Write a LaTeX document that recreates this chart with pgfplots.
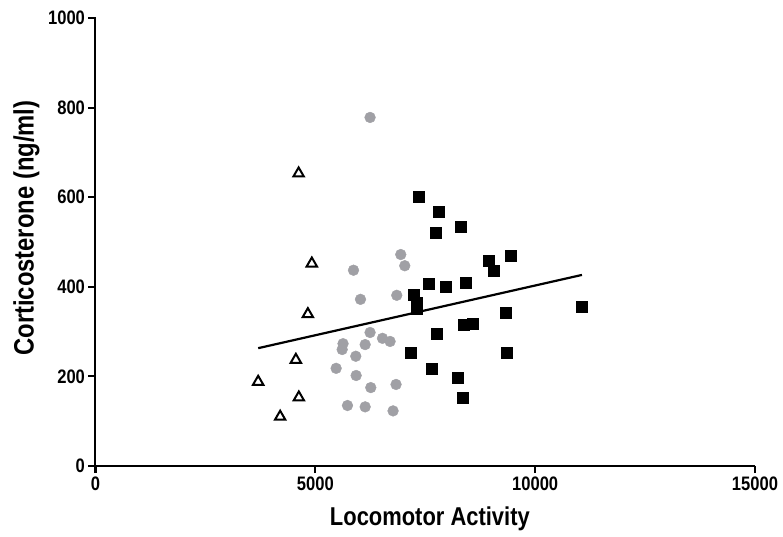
\documentclass[border=0pt]{standalone}
\usepackage{fontspec}
\setmainfont{Liberation Sans}[FakeStretch=0.85]
\usepackage{pgfplots}
\usetikzlibrary{calc}
\pgfplotsset{compat=1.18}
\definecolor{dotgray}{RGB}{160,160,165}
\newcommand{\bigbf}{\fontsize{19.5pt}{22pt}\selectfont\bfseries}
\begin{document}
\begin{tikzpicture}
\begin{axis}[
  name=ax,
  scale only axis,
  width=659.5pt, height=448pt,
  xmin=0, xmax=15000, ymin=0, ymax=1000,
  axis x line=bottom,
  axis y line=left,
  axis line style={-, line width=2pt, black},
  xtick={0,5000,10000,15000},
  ytick={0,200,400,600,800,1000},
  minor tick num=0,
  tick align=outside,
  tickwidth=7pt,
  tick style={line width=2pt, black, solid},
  scaled ticks=false,
  /pgf/number format/assume math mode=true,
  /pgf/number format/set thousands separator={},
  xticklabel style={font=\bigbf},
  yticklabel style={font=\bigbf},
  xlabel={Locomotor Activity},
  ylabel={Corticosterone (ng/ml)},
  xlabel style={font=\fontsize{25.8pt}{28pt}\selectfont\bfseries, at={(axis description cs:0.507,-0.118)}, anchor=center},
  ylabel style={font=\fontsize{28pt}{30pt}\selectfont\bfseries, at={(axis description cs:-0.1046,0.531)}, anchor=center},
  clip=false,
]
% regression line
\addplot[black, line width=2.2pt] coordinates {(3700,263) (11064,426.5)};
% gray circles
\addplot[only marks, mark=*, mark size=5.4pt, color=dotgray, mark options={draw=dotgray, fill=dotgray}] coordinates {
(6245,778) (6943,472) (7034,447) (5868,437) (6027,372) (6852,381)
(6245,298) (6527,285) (6700,278) (5630,273) (5610,260) (6133,271)
(5920,245) (5473,218) (5928,202) (6261,175) (6836,182) (5731,135)
(6133,132) (6768,123)
};
% black squares
\addplot[only marks, mark=square*, mark size=5.5pt, black] coordinates {
(7360,602) (7807,568) (7746,520) (8307,535) (8936,459) (9064,436)
(9450,469) (7573,406) (7973,400) (8413,409) (7245,382) (7310,365)
(7315,350) (9330,342) (11064,356) (8383,316) (8573,318) (7768,295)
(7177,252) (9345,252) (7640,217) (8232,196) (8352,152)
};
% open triangles
\addplot[only marks, mark=triangle, mark size=6pt, black, mark options={line width=2pt, fill=white}] coordinates {
(4620,653) (4920,452) (4830,339) (4557,237) (3700,188) (4625,153) (4200,110)
};
\end{axis}
\foreach \f in {0,0.33333,0.66667,1} {\draw[line width=2pt, black] ($(ax.south west)!\f!(ax.south east)$) -- ++(0,-7pt);}
\foreach \f in {0,0.2,0.4,0.6,0.8,1} {\draw[line width=2pt, black] ($(ax.south west)!\f!(ax.north west)$) -- ++(-7pt,0);}
\path (ax.south west) ++(-95.5pt,-71pt) rectangle ++(783pt,537pt);
\end{tikzpicture}
\end{document}
